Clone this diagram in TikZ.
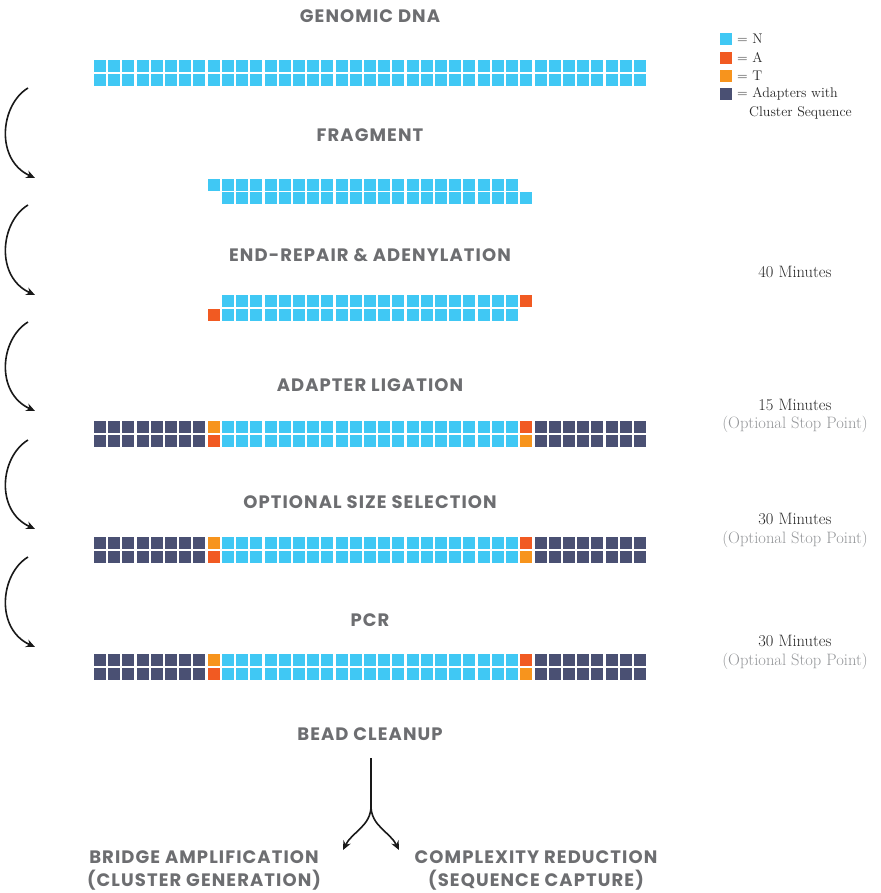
\documentclass[tikz,border=0pt]{standalone}
\usepackage{fontspec}
\newfontfamily\titlefont{Poppins}[LetterSpace=6]
\usetikzlibrary{arrows.meta}
\definecolor{cN}{HTML}{40C8F4}
\definecolor{cA}{HTML}{F15A22}
\definecolor{cT}{HTML}{F7941D}
\definecolor{cD}{HTML}{4A5073}
\definecolor{tgray}{HTML}{6D6E71}
\definecolor{lgray}{HTML}{939598}
\newcommand{\sqr}[3]{\fill[#1] ({94+#2*14.21},#3) rectangle ++(12,12);}
\newcommand{\sqrow}[4]{\foreach \i in {#2,...,#3} {\sqr{#1}{\i}{#4}}}
\begin{document}
\begin{tikzpicture}[x=1pt,y=-1pt,
  title/.style={font=\titlefont\bfseries\fontsize{18}{21}\selectfont, text=tgray, inner sep=0pt, anchor=center},
  timetxt/.style={font=\fontsize{16.5}{19}\selectfont, text=black!85, inner sep=0pt, anchor=center},
  stoptxt/.style={font=\fontsize{16.5}{19}\selectfont, text=lgray, inner sep=0pt, anchor=center},
  legtxt/.style={font=\fontsize{14}{16}\selectfont, text=black!85, inner sep=0pt, anchor=west},
  steparrow/.style={line width=1.6pt, -{Stealth[length=9pt,width=8pt]}, black!90}]
\useasboundingbox (0,0) rectangle (880,893);
% titles
\node[title] (t1) at (370,16) {GENOMIC DNA};
\node[title] (t2) at (370,135) {FRAGMENT};
\node[title] (t3) at (370,255) {END-REPAIR \& ADENYLATION};
\node[title] (t4) at (370,385) {ADAPTER LIGATION};
\node[title] (t5) at (370,502) {OPTIONAL SIZE SELECTION};
\node[title] (t6) at (370,620) {PCR};
\node[title] (t7) at (370,734) {BEAD CLEANUP};
\node[title, align=center, font=\titlefont\bfseries\fontsize{18}{23}\selectfont] (b1) at (204,870) {BRIDGE AMPLIFICATION\\(CLUSTER GENERATION)};
\node[title, align=center, font=\titlefont\bfseries\fontsize{18}{23}\selectfont] (b2) at (536,870) {COMPLEXITY REDUCTION\\(SEQUENCE CAPTURE)};
% genomic DNA
\sqrow{cN}{0}{38}{60}
\sqrow{cN}{0}{38}{74}
% fragment
\sqrow{cN}{8}{29}{179}
\sqrow{cN}{9}{30}{192}
% end repair
\sqrow{cN}{9}{29}{295}
\sqr{cA}{30}{295}
\sqr{cA}{8}{309}
\sqrow{cN}{9}{29}{309}
% adapter rows
\foreach \y in {421,537,654} {
  \sqrow{cD}{0}{7}{\y}
  \sqrow{cD}{0}{7}{\y+14}
  \sqr{cT}{8}{\y}
  \sqr{cA}{8}{\y+14}
  \sqrow{cN}{9}{29}{\y}
  \sqrow{cN}{9}{29}{\y+14}
  \sqr{cA}{30}{\y}
  \sqr{cT}{30}{\y+14}
  \sqrow{cD}{31}{38}{\y}
  \sqrow{cD}{31}{38}{\y+14}
}
% legend
\fill[cN] (720,33) rectangle ++(12,12);
\fill[cA] (720,52) rectangle ++(12,12);
\fill[cT] (720,70) rectangle ++(12,12);
\fill[cD] (720,88) rectangle ++(12,12);
\node[legtxt] (l1) at (737,39) {= N};
\node[legtxt] (l2) at (737,58) {= A};
\node[legtxt] (l3) at (737,76) {= T};
\node[legtxt] (l4) at (737,94) {= Adapters with};
\node[legtxt] (l5) at (749,113) {Cluster Sequence};
% times
\node[timetxt] (m1) at (795,272) {40 Minutes};
\node[timetxt] (m2) at (795,405) {15 Minutes};
\node[stoptxt] (s2) at (795,424) {(Optional Stop Point)};
\node[timetxt] (m3) at (795,519) {30 Minutes};
\node[stoptxt] (s3) at (795,539) {(Optional Stop Point)};
\node[timetxt] (m4) at (795,641) {30 Minutes};
\node[stoptxt] (s4) at (795,661) {(Optional Stop Point)};
% left arrows
\foreach \k/\ya/\yb in {1/88/178, 2/205/295, 3/322/411, 4/440/529, 5/557/647} {
  \coordinate (as\k) at (28,\ya);
  \coordinate (ae\k) at (35,\yb);
  \draw[steparrow] (as\k) .. controls (0,\ya+17) and (-5,\yb-18) .. (ae\k);
}
% fork
\coordinate (ftop) at (371,758);
\coordinate (fmid) at (371,806);
\coordinate (fl) at (343,850);
\coordinate (fr) at (399,850);
\draw[line width=1.6pt, black!90] (ftop) -- (fmid);
\draw[steparrow] (fmid) .. controls (371,826) and (352,832) .. (fl);
\draw[steparrow] (fmid) .. controls (371,826) and (390,832) .. (fr);
\end{tikzpicture}
\end{document}
